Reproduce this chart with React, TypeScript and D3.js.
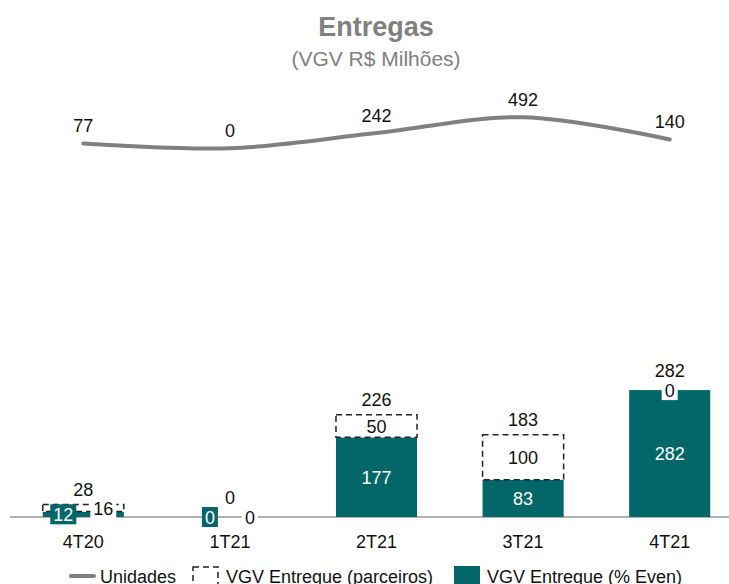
import * as d3 from 'd3';

const CATEGORIES = ['4T20', '1T21', '2T21', '3T21', '4T21'];
const UNIDADES = [77, 0, 242, 492, 140];
const VGV_EVEN = [12, 0, 177, 83, 282];
const VGV_PARCEIROS = [16, 0, 50, 100, 0];
const VGV_TOTAL = [28, 0, 226, 183, 282];

const TEAL = '#03676a';
const GRAY = '#808080';
const W = 729;
const H = 584;
const FONT = '"Liberation Sans", Arial, Helvetica, sans-serif';
const LABEL_SIZE = 18;

function labelWidth(t: string) {
  return t.length * LABEL_SIZE * 0.556;
}

export default function App() {
  const baseline = 517;
  const x = d3.scaleBand<string>()
    .domain(CATEGORIES)
    .range([10, 743])
    .paddingInner(0.447)
    .paddingOuter(0.2235);
  const y = d3.scaleLinear().domain([0, 300]).range([baseline, baseline - 135]);
  const yLine = d3.scaleLinear().domain([0, 492]).range([148.3, 117.3]);

  const bw = x.bandwidth();
  const cx = (c: string) => (x(c) ?? 0) + bw / 2;

  const line = d3.line<number>()
    .x((_, i) => cx(CATEGORIES[i]))
    .y(d => yLine(d))
    .curve(d3.curveCatmullRom.alpha(0.5));

  const bgLabel = (key: string, tx: number, ty: number, text: string, bg: string, color: string) => {
    const w = labelWidth(text) + 6;
    return (
      <g key={key}>
        <rect x={tx - w / 2} y={ty - 10} width={w} height={20} fill={bg} />
        <text x={tx} y={ty + 6.5} textAnchor="middle" fontSize={LABEL_SIZE} fill={color}>{text}</text>
      </g>
    );
  };

  return (
    <svg width={W} height={H} style={{ position: 'absolute', left: 0, top: 0, fontFamily: FONT, background: 'white' }}>
      {/* Title */}
      <text x={376} y={36} textAnchor="middle" fontSize={27} fontWeight={700} fill={GRAY}>Entregas</text>
      <text x={376} y={66} textAnchor="middle" fontSize={21} fill={GRAY}>(VGV R$ Milhões)</text>

      {/* Units line */}
      <path d={line(UNIDADES) ?? ''} fill="none" stroke={GRAY} strokeWidth={4} strokeLinecap="round" />
      {UNIDADES.map((v, i) => (
        <text key={'u' + i} x={cx(CATEGORIES[i])} y={yLine(v) - 11} textAnchor="middle" fontSize={LABEL_SIZE} fill="#111">{v}</text>
      ))}

      {/* Axis line */}
      <line x1={10} x2={W} y1={baseline} y2={baseline} stroke="#9a9a9a" strokeWidth={1.5} />

      {/* Bars */}
      {CATEGORIES.map((c, i) => {
        const x0 = x(c) ?? 0;
        const evenTop = y(VGV_EVEN[i]);
        const totTop = y(VGV_EVEN[i] + VGV_PARCEIROS[i]);
        return (
          <g key={'b' + c}>
            {VGV_EVEN[i] > 0 && (
              <rect x={x0} y={evenTop} width={bw} height={baseline - evenTop} fill={TEAL} />
            )}
            {VGV_PARCEIROS[i] > 0 && (
              <rect x={x0} y={totTop} width={bw} height={evenTop - totTop}
                fill="white" stroke="#222" strokeWidth={1.5} strokeDasharray="6,4" />
            )}
          </g>
        );
      })}

      {/* Bar labels */}
      {CATEGORIES.map((c, i) => {
        const c0 = cx(c);
        const evenTop = y(VGV_EVEN[i]);
        const totTop = y(VGV_EVEN[i] + VGV_PARCEIROS[i]);
        const small = baseline - totTop < 20;
        const off = small ? 20 : 0;
        const gap = VGV_PARCEIROS[i] === 0 ? 20 : 15;
        return (
          <g key={'l' + c}>
            {bgLabel('e', c0 - off, (baseline + evenTop) / 2, String(VGV_EVEN[i]), TEAL, 'white')}
            {bgLabel('p', c0 + off, (evenTop + totTop) / 2, String(VGV_PARCEIROS[i]), 'white', '#111')}
            <text x={c0} y={totTop - gap + 6.5} textAnchor="middle" fontSize={LABEL_SIZE} fill="#111">{VGV_TOTAL[i]}</text>
          </g>
        );
      })}

      {/* Category labels */}
      {CATEGORIES.map(c => (
        <text key={'c' + c} x={cx(c)} y={548} textAnchor="middle" fontSize={LABEL_SIZE} fill="#111">{c}</text>
      ))}

      {/* Legend */}
      <g fontSize={LABEL_SIZE} fill="#111">
        <line x1={71} x2={94} y1={576} y2={576} stroke={GRAY} strokeWidth={4} strokeLinecap="round" />
        <text x={100} y={583}>Unidades</text>
        <rect x={193} y={567} width={25} height={22} fill="white" stroke="#222" strokeWidth={1.5} strokeDasharray="6,4" />
        <text x={226} y={583}>VGV Entregue (parceiros)</text>
        <rect x={454} y={566} width={26} height={22} fill={TEAL} />
        <text x={487} y={583}>VGV Entregue (% Even)</text>
      </g>
    </svg>
  );
}
